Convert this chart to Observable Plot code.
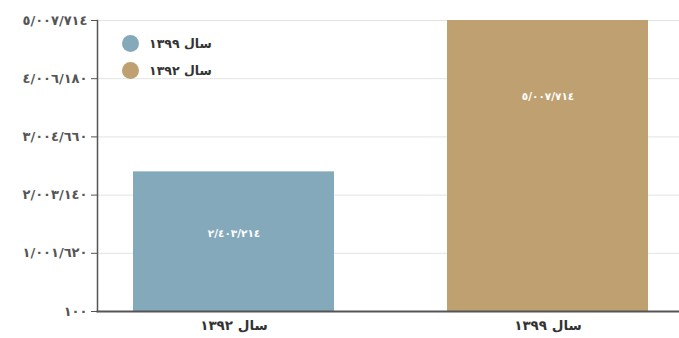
<!DOCTYPE html>
<html><head><meta charset="utf-8">
<script src="https://cdn.jsdelivr.net/npm/d3@7"></script>
<script src="https://cdn.jsdelivr.net/npm/@observablehq/plot@0.6"></script>
<style>
body{margin:0;background:#fff;font-family:"DejaVu Sans",sans-serif;}
#wrap{position:relative;width:679px;height:338px;}
#legend{position:absolute;left:122px;top:30px;font-size:12.5px;color:#333;font-weight:bold;}
#legend .row{display:flex;align-items:center;height:27px;}
#legend .dot{width:17px;height:17px;border-radius:50%;margin-right:10px;}
</style></head>
<body><div id="wrap"><div id="legend"></div></div>
<script>
const categories = ["سال ۱۳۹۲", "سال ۱۳۹۹"];
const values = [2403214, 5007714];
const colors = ["#84a9bb", "#bfa070"];
const yTicks = [100, 1001620, 2003140, 3004660, 4006180, 5007714];
const legendLabels = ["سال ۱۳۹۹", "سال ۱۳۹۲"];
const legendColors = ["#84a9bb", "#bfa070"];

const ar = "٠١٢٣٤٥٦٧٨٩";
const fmt = v => d3.format(",")(v).replace(/,/g, "/").replace(/\d/g, d => ar[+d]);
const data = categories.map((c, i) => ({cat: c, value: values[i], color: colors[i]}));

const chart = Plot.plot({
  width: 679, height: 338,
  marginLeft: 97, marginRight: 0, marginTop: 20, marginBottom: 27,
  style: {fontFamily: "DejaVu Sans, sans-serif", background: "#fff"},
  x: {domain: categories, range: [97, 685], paddingInner: 0.359, paddingOuter: 0.113, label: null},
  y: {domain: [100, 5007714], label: null},
  marks: [
    Plot.ruleY(yTicks, {stroke: "#e3e3e3", strokeWidth: 1}),
    Plot.barY(data, {x: "cat", y1: 100, y2: "value", fill: "color"}),
    Plot.text([data[0]], {x: "cat", y: "value", text: d => fmt(d.value), fill: "#fff", fontSize: 10.5, fontWeight: "bold", dy: 62}),
    Plot.text([data[1]], {x: "cat", y: "value", text: d => fmt(d.value), fill: "#fff", fontSize: 10.5, fontWeight: "bold", dy: 76}),
    Plot.axisY({ticks: yTicks, tickFormat: fmt, tickSize: 6, tickPadding: 4, fontSize: 13, fontWeight: "bold", color: "#555", stroke: "#555"}),
    Plot.axisX({tickSize: 0, tickPadding: 9, fontSize: 13.5, fontWeight: "bold", color: "#333"}),
    Plot.frame({anchor: "left", stroke: "#555", strokeWidth: 1.5}),
    Plot.frame({anchor: "bottom", stroke: "#555", strokeWidth: 2})
  ]
});
document.getElementById("wrap").prepend(chart);

const lg = document.getElementById("legend");
legendLabels.forEach((l, i) => {
  const r = document.createElement("div"); r.className = "row";
  const d = document.createElement("div"); d.className = "dot"; d.style.background = legendColors[i];
  const t = document.createElement("span"); t.textContent = l; t.dir = "rtl";
  r.append(d, t); lg.append(r);
});
</script></body></html>
